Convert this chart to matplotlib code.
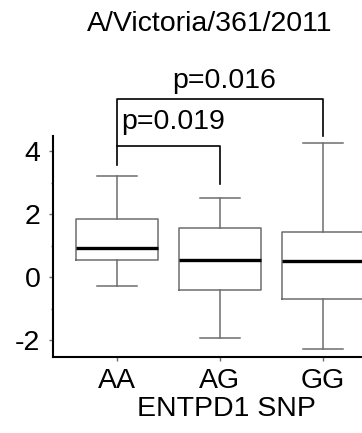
import matplotlib
matplotlib.use("Agg")
import matplotlib.pyplot as plt
from matplotlib.ticker import MultipleLocator

plt.rcParams['font.family'] = ['Liberation Sans', 'DejaVu Sans']

# box statistics
groups = ['AA', 'AG', 'GG']
whislo = [-0.28, -1.93, -2.28]
q1 = [0.55, -0.41, -0.69]
med = [0.92, 0.53, 0.51]
q3 = [1.85, 1.55, 1.44]
whishi = [3.22, 2.50, 4.25]

title = 'A/Victoria/361/2011'
xlabel = 'ENTPD1 SNP'
pvals = ['p=0.016', 'p=0.019']

stats = []
for i in range(len(groups)):
    stats.append(dict(label=groups[i], whislo=whislo[i], q1=q1[i], med=med[i],
                      q3=q3[i], whishi=whishi[i], fliers=[]))

fs = 20.5
fig = plt.figure(figsize=(3.62, 4.33), dpi=100)
ax = fig.add_axes([0.1464, 0.1755, 0.8536, 0.5105])

gray = '#6e6e6e'
ax.bxp(stats, positions=[1, 2, 3], widths=0.8, showfliers=False,
       boxprops=dict(color=gray, linewidth=1.1),
       whiskerprops=dict(color=gray, linewidth=1.1),
       capprops=dict(color=gray, linewidth=1.1),
       medianprops=dict(color='black', linewidth=2.4),
       capwidths=0.39)

ax.set_xlim(0.379, 3.38)
ax.set_ylim(-2.54, 4.48)
ax.yaxis.set_minor_locator(MultipleLocator(1))
ax.set_yticks([-2, 0, 2, 4])
ax.set_yticklabels(['-2', '0', '2', '4'])
ax.set_xticks([1, 2, 3])
ax.set_xticklabels(groups)
ax.tick_params(axis='both', which='major', labelsize=fs, color=gray, length=2.8, width=1)
ax.tick_params(axis='y', which='minor', color=gray, length=1.8, width=1)
ax.tick_params(axis='x', pad=5)
ax.tick_params(axis='y', pad=6.3)

for s in ['top', 'right']:
    ax.spines[s].set_visible(False)
for s in ['left', 'bottom']:
    ax.spines[s].set_linewidth(1.5)

ax.set_xlabel(xlabel, fontsize=fs)
ax.xaxis.set_label_coords(0.56, -0.178)

# significance brackets
ax.plot([1, 1, 3, 3], [3.56, 5.66, 5.66, 4.48], color='black', lw=1.2, clip_on=False)
ax.plot([2, 2, 1], [2.95, 4.16, 4.16], color='black', lw=1.2, clip_on=False)
ax.text(2.04, 6.0, pvals[0], fontsize=fs, ha='center', va='baseline')
ax.text(1.04, 4.70, pvals[1], fontsize=fs, ha='left', va='baseline')

fig.text(0.58, 0.945, title, fontsize=fs, ha='center', va='center')

fig.savefig('out.png', dpi=100)
